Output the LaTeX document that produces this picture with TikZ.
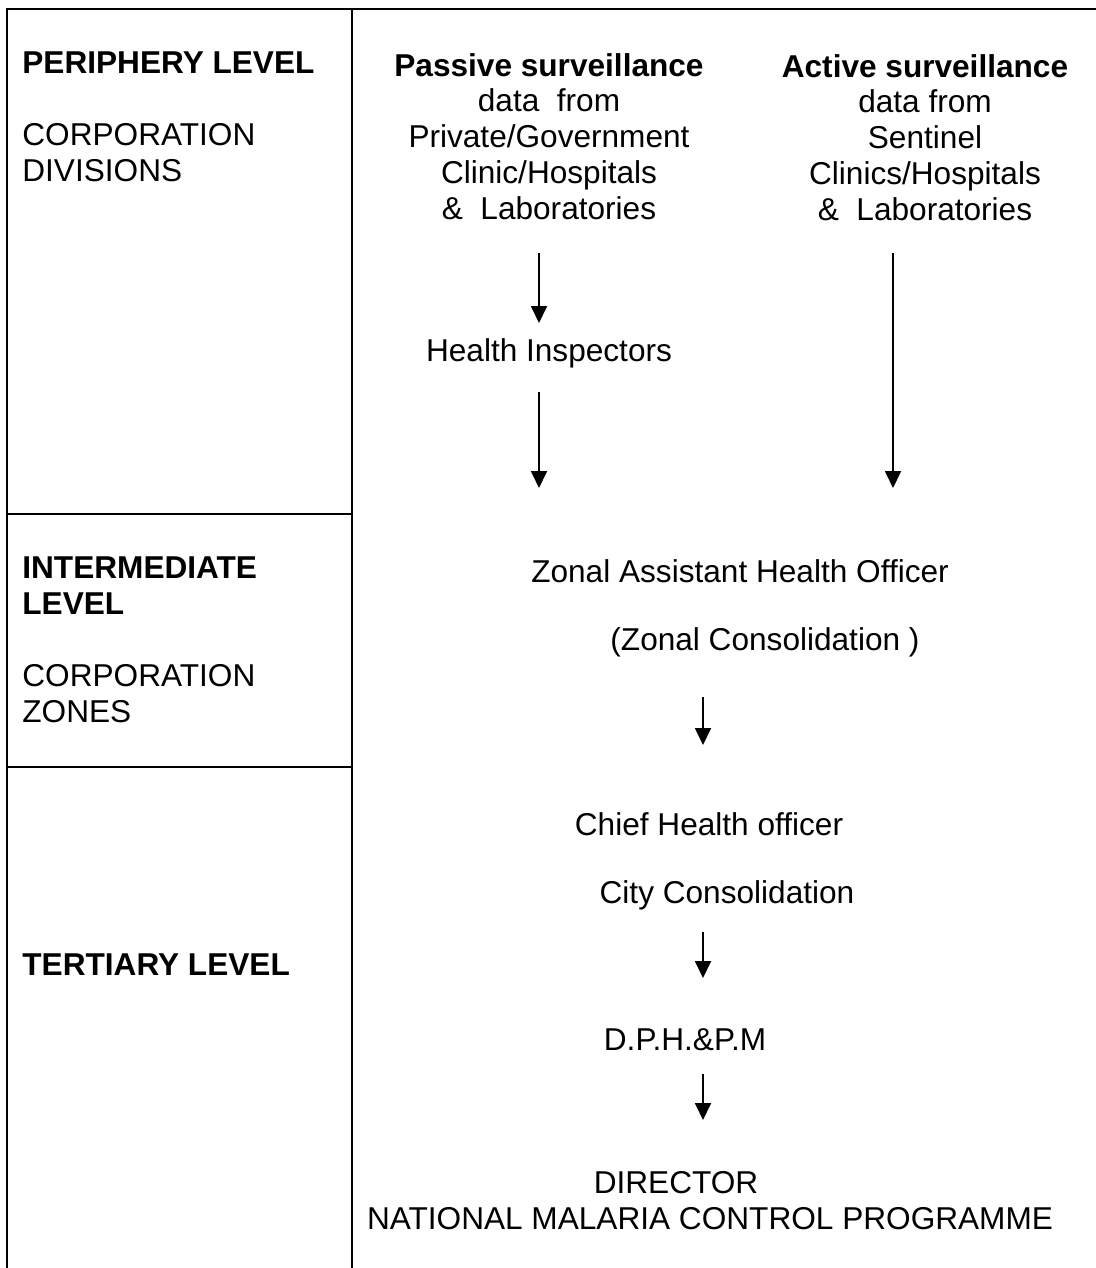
\documentclass[tikz,border=0pt]{standalone}
\usepackage{fontspec}
\setmainfont{Liberation Sans}
\usetikzlibrary{arrows.meta}
\begin{document}
\begin{tikzpicture}[x=0.5pt,y=-0.5pt,
  frame/.style={line width=0.85pt,black},
  flow/.style={line width=0.9pt,-{Triangle[width=8pt,length=8.5pt]}},
  txt/.style={inner sep=0pt,font=\fontsize{15.8}{17.9}\selectfont,align=center},
  lvl/.style={inner sep=0pt,anchor=west,font=\fontsize{15.8}{17.9}\selectfont,align=left},
  lvlb/.style={lvl,font=\fontsize{15.8}{17.9}\selectfont\bfseries}]
\useasboundingbox (0,0) rectangle (1096,1268);
% table frame
\draw[frame] (7,1268) -- (7,9) -- (1096,9);
\draw[frame] (352,9) -- (352,1268);
\draw[frame] (7,514) -- (352,514);
\draw[frame] (7,767) -- (352,767);
% level labels
\node[lvlb] (perl) at (22,63) {PERIPHERY LEVEL};
\node[lvl] (perd) at (22,152.5) {CORPORATION\\DIVISIONS};
\node[lvlb] (intl) at (22,585.5) {INTERMEDIATE\\LEVEL};
\node[lvl] (intd) at (22,693.5) {CORPORATION\\ZONES};
\node[lvlb] (terl) at (22,965) {TERTIARY LEVEL};
% reporting chain
\node[txt] (passive) at (549,136.5) {\textbf{Passive surveillance}\\data\ \ from\\Private/Government\\Clinic/Hospitals\\\&\ \ Laboratories};
\node[txt] (active) at (925,137.5) {\textbf{Active surveillance}\\data from\\Sentinel\\Clinics/Hospitals\\\&\ \ Laboratories};
\node[txt] (hi) at (549,353) {Health Inspectors};
\node[txt] (zaho) at (740,571) {Zonal Assistant Health Officer};
\node[txt] (zc) at (765,642) {(Zonal Consolidation )};
\node[txt] (cho) at (709,824) {Chief Health officer};
\node[txt] (cc) at (727,895) {City Consolidation};
\node[txt] (dph) at (685,1040) {D.P.H.\&P.M};
\node[txt] (dir) at (676,1183) {DIRECTOR};
\node[txt] (nmcp) at (710,1219) {NATIONAL MALARIA CONTROL PROGRAMME};
% arrow end points
\coordinate (p1) at (539,253); \coordinate (p2) at (539,323);
\coordinate (p3) at (539,392); \coordinate (p4) at (539,488);
\coordinate (a1) at (893,253); \coordinate (a2) at (893,488);
\coordinate (z1) at (703,697); \coordinate (z2) at (703,745);
\coordinate (c1) at (703,932); \coordinate (c2) at (703,978);
\coordinate (d1) at (703,1074); \coordinate (d2) at (703,1120);
\draw[flow] (p1) -- (p2);
\draw[flow] (p3) -- (p4);
\draw[flow] (a1) -- (a2);
\draw[flow] (z1) -- (z2);
\draw[flow] (c1) -- (c2);
\draw[flow] (d1) -- (d2);
\end{tikzpicture}
\end{document}
